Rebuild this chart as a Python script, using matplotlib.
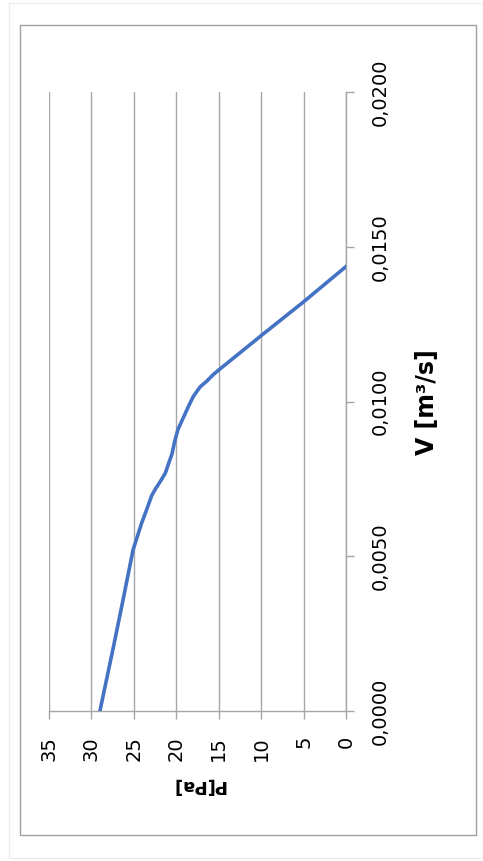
import matplotlib.pyplot as plt
from matplotlib.patches import Rectangle

# curve (pressure in Pa, flow in m3/s)
p_pa = [29.0, 27.4, 26.2, 25.1, 24.1, 23.5, 22.9, 22.4, 21.9, 21.3, 20.9,
        20.5, 20.2, 19.8, 19.3, 18.6, 18.0, 17.2, 16.4, 15.6, 14.9, 9.9, 5.0, 0.0]
v_m3s = [0.0, 0.00208, 0.00369, 0.0052, 0.00606, 0.0065, 0.00696, 0.0072,
         0.00741, 0.00768, 0.0080, 0.00831, 0.0087, 0.0091, 0.0094, 0.00982,
         0.01016, 0.01047, 0.01066, 0.01088, 0.01104, 0.01215, 0.01322, 0.01436]

p_ticks = [0, 5, 10, 15, 20, 25, 30, 35]
v_ticks = [0.0, 0.005, 0.010, 0.015, 0.020]
v_labels = ["0,0000", "0,0050", "0,0100", "0,0150", "0,0200"]

W, H = 483, 861
grey = "#a6a6a6"

fig = plt.figure(figsize=(W / 100, H / 100), dpi=100)

# chart area borders
fig.patches.append(Rectangle((9 / W, 3 / H), 474 / W, 855 / H, transform=fig.transFigure,
                             fill=False, edgecolor="#ececec", lw=1))
fig.patches.append(Rectangle((20 / W, (H - 835) / H), 456 / W, 810 / H, transform=fig.transFigure,
                             fill=False, edgecolor="#a0a0a0", lw=1))

# the chart is drawn turned a quarter turn: P runs along the bottom, V up the right side
ax = fig.add_axes([49 / W, (H - 711) / H, 297 / W, 619 / H])
ax.plot(p_pa, v_m3s, color="#4472C4", lw=2.6, solid_joinstyle="round", zorder=3)

ax.set_xlim(35, 0)
ax.set_ylim(0, 0.02)

for s in ["top", "left"]:
    ax.spines[s].set_visible(False)
for s in ["right", "bottom"]:
    ax.spines[s].set_color(grey)
    ax.spines[s].set_linewidth(1)

ax.set_xticks(p_ticks)
ax.set_xticklabels([str(t) for t in p_ticks], rotation=90, va="top", ha="center",
                   fontsize=14, family="DejaVu Sans")
ax.yaxis.tick_right()
ax.set_yticks(v_ticks)
ax.set_yticklabels(v_labels, rotation=90, va="center", ha="left",
                   fontsize=14, family="DejaVu Sans")
ax.tick_params(axis="both", direction="out", length=6, width=1, color=grey, pad=12)

ax.xaxis.grid(True, color=grey, lw=1)
ax.set_axisbelow(True)

fig.text(198 / W, (H - 785) / H, "P[Pa]", rotation=180, ha="center", va="center",
         fontsize=13, fontweight="bold")
fig.text(427 / W, (H - 402) / H, "V [m³/s]", rotation=90, ha="center", va="center",
         fontsize=17, fontweight="bold")

fig.savefig("out.png", dpi=100)
